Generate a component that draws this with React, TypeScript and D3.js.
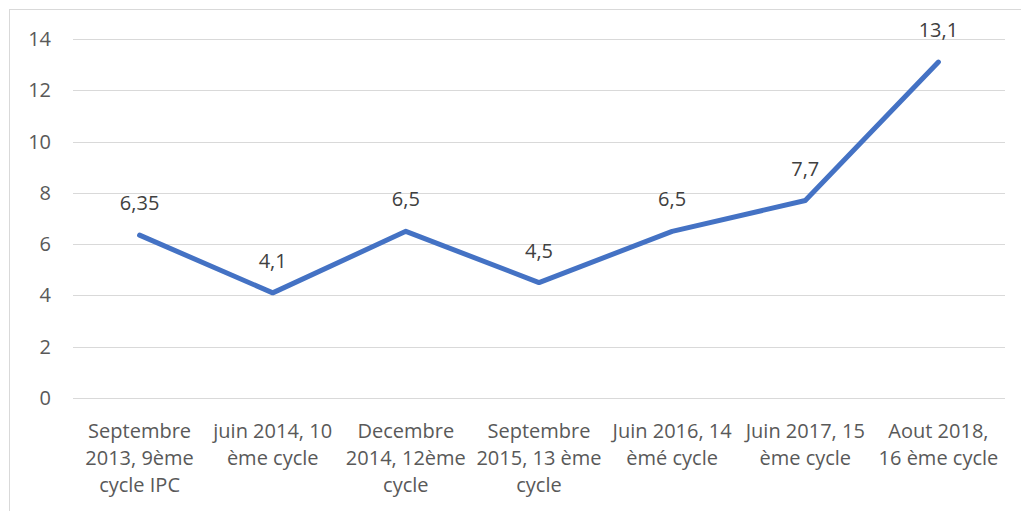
import React, { useEffect, useRef } from "react";
import * as d3 from "d3";

// categories (line breaks as in the original axis labels)
const categories = [
  "Septembre\n2013, 9ème\ncycle IPC",
  "juin 2014, 10\nème cycle",
  "Decembre\n2014, 12ème\ncycle",
  "Septembre\n2015, 13 ème\ncycle",
  "Juin 2016, 14\nèmé cycle",
  "Juin 2017, 15\nème cycle",
  "Aout 2018,\n16 ème cycle",
];
const values = [6.35, 4.1, 6.5, 4.5, 6.5, 7.7, 13.1];
const valueLabels = ["6,35", "4,1", "6,5", "4,5", "6,5", "7,7", "13,1"];
const yTicks = [0, 2, 4, 6, 8, 10, 12, 14];

const W = 1021;
const H = 511;
const FONT = "'Open Sans', sans-serif";
const FS = "20px";

const App: React.FC = () => {
  const svgRef = useRef<SVGSVGElement | null>(null);

  useEffect(() => {
    if (!svgRef.current) return;
    const svg = d3.select(svgRef.current);
    svg.selectAll("*").remove();

    const plot = { left: 73, right: 1005, top: 39, bottom: 398 };

    const x = d3
      .scaleBand<number>()
      .domain(d3.range(categories.length))
      .range([plot.left, plot.right]);
    const y = d3.scaleLinear().domain([0, 14]).range([plot.bottom, plot.top]);

    // chart border (runs off the right and bottom edge)
    svg
      .append("rect")
      .attr("x", 9.5)
      .attr("y", 9.5)
      .attr("width", W + 20)
      .attr("height", H + 20)
      .attr("fill", "white")
      .attr("stroke", "#d9d9d9")
      .attr("stroke-width", 1);

    // gridlines
    svg
      .append("g")
      .selectAll("line")
      .data(yTicks)
      .join("line")
      .attr("x1", plot.left)
      .attr("x2", plot.right)
      .attr("y1", (d) => Math.round(y(d)) + 0.5)
      .attr("y2", (d) => Math.round(y(d)) + 0.5)
      .attr("stroke", "#d9d9d9")
      .attr("stroke-width", 1);

    // y tick labels
    svg
      .append("g")
      .selectAll("text")
      .data(yTicks)
      .join("text")
      .attr("x", 51)
      .attr("y", (d) => y(d))
      .attr("dy", "0.35em")
      .attr("text-anchor", "end")
      .attr("fill", "#595959")
      .style("font-family", FONT)
      .style("font-size", FS)
      .text((d) => d);

    // x category labels
    const cx = (i: number) => x(i)! + x.bandwidth() / 2;
    const catG = svg.append("g");
    categories.forEach((c, i) => {
      const t = catG
        .append("text")
        .attr("text-anchor", "middle")
        .attr("fill", "#595959")
        .style("font-family", FONT)
        .style("font-size", FS);
      c.split("\n").forEach((line, j) => {
        t.append("tspan")
          .attr("x", cx(i))
          .attr("y", 438 + j * 27)
          .text(line);
      });
    });

    // series line
    const line = d3
      .line<number>()
      .x((_, i) => cx(i))
      .y((d) => y(d));

    svg
      .append("path")
      .datum(values)
      .attr("fill", "none")
      .attr("stroke", "#4472c4")
      .attr("stroke-width", 5)
      .attr("stroke-linejoin", "round")
      .attr("stroke-linecap", "round")
      .attr("d", line);

    // data labels
    svg
      .append("g")
      .selectAll("text")
      .data(values)
      .join("text")
      .attr("x", (_, i) => cx(i))
      .attr("y", (d) => y(d) - 25)
      .attr("text-anchor", "middle")
      .attr("fill", "#404040")
      .style("font-family", FONT)
      .style("font-size", FS)
      .text((_, i) => valueLabels[i]);
  }, []);

  return (
    <svg
      ref={svgRef}
      width={W}
      height={H}
      style={{ position: "absolute", left: 0, top: 0, display: "block", background: "white" }}
    />
  );
};

export default App;
